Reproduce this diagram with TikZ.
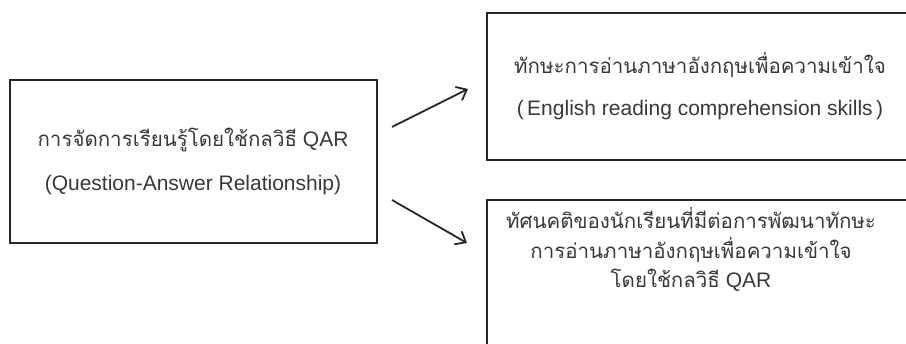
\documentclass[tikz,border=0pt]{standalone}
\usepackage{fontspec}
\setmainfont{Liberation Sans}
\newfontfamily\thai[Script=Thai]{Loma}
\usetikzlibrary{arrows.meta}
\tikzset{
  box/.style={draw=black!85, line width=1.8pt, rectangle, inner sep=0pt},
  txt/.style={text=black!78, font=\fontsize{21}{24}\selectfont, inner sep=0pt, anchor=center},
  conn/.style={draw=black!85, line width=1.8pt, -{Straight Barb[length=9pt,width=15pt,line width=1.8pt]}}
}
\newcommand{\thaitxt}[1]{{\thai\fontsize{20.5}{24}\selectfont #1}}
\begin{document}
\begin{tikzpicture}[x=1pt,y=1pt]
\useasboundingbox (0,0) rectangle (906,344);
\clip (0,0) rectangle (906,344);
% boxes
\node[box, minimum width=367pt, minimum height=163pt] (left) at (193.5,182.5) {};
\node[box, minimum width=426pt, minimum height=147pt] (top) at (700,257.5) {};
\node[box, minimum width=426pt, minimum height=180pt] (bot) at (700,54) {};
% texts
\node[txt] (l1) at (193,204) {\thaitxt{การจัดการเรียนรู้โดยใช้กลวิธี} QAR};
\node[txt] (l2) at (193,159) {(Question-Answer Relationship)};
\node[txt] (t1) at (700,279) {\thaitxt{ทักษะการอ่านภาษาอังกฤษเพื่อความเข้าใจ}};
\node[txt] (t2) at (700,234) {(\,English reading comprehension skills\,)};
\node[txt] (b1) at (691,126) {\thaitxt{ทัศนคติของนักเรียนที่มีต่อการพัฒนาทักษะ}};
\node[txt] (b2) at (691,94) {\thaitxt{การอ่านภาษาอังกฤษเพื่อความเข้าใจ}};
\node[txt] (b3) at (691,64) {\thaitxt{โดยใช้กลวิธี} QAR};
% arrows
\coordinate (a1s) at (392,217);
\coordinate (a1e) at (468,255);
\coordinate (a2s) at (392,144);
\coordinate (a2e) at (467,101);
\draw[conn] (a1s) -- (a1e);
\draw[conn] (a2s) -- (a2e);
\end{tikzpicture}
\end{document}
